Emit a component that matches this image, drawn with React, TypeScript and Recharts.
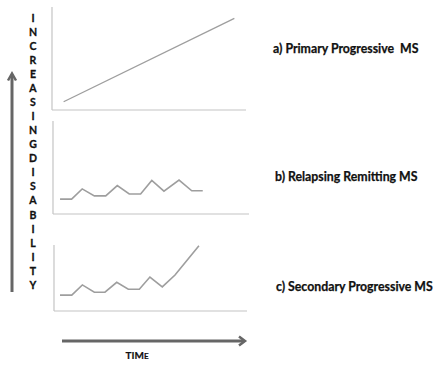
import { LineChart, Line, XAxis, YAxis } from 'recharts';

// time / disability values (0-100 scale)
const primaryTime = [6, 94];
const primaryDisability = [8, 89];

const relapsingTime = [3.6, 9.5, 14.9, 21.1, 26.9, 32.8, 38.9, 44.7, 50.4, 56.6, 64.3, 70.8, 76.4];
const relapsingDisability = [16, 16, 27, 19.5, 19.5, 30.5, 21.5, 21.5, 36, 24.5, 36.5, 25, 25];

const secondaryTime = [3.1, 9.2, 14.7, 20.9, 26.4, 32.5, 38.5, 44.2, 49.7, 56.1, 62.7, 75.1];
const secondaryDisability = [24, 24, 39.5, 28.5, 28.5, 43.5, 33, 33, 51.5, 36.5, 54.5, 99];

const panelLabels = ['a) Primary Progressive  MS', 'b) Relapsing Remitting MS', 'c) Secondary Progressive MS'];
const yLetters = 'INCREASINGDISABILITY'.split('');

const W = 442;
const H = 369;

const toRows = (t: number[], v: number[]) => t.map((x, i) => ({ t: x, v: v[i] }));

const panels = [
  { data: toRows(primaryTime, primaryDisability), box: { l: 52, t: 7, r: 246, b: 110 }, sw: 1.3 },
  { data: toRows(relapsingTime, relapsingDisability), box: { l: 53, t: 121, r: 249, b: 214 }, sw: 1.6 },
  { data: toRows(secondaryTime, secondaryDisability), box: { l: 54, t: 245, r: 247, b: 311 }, sw: 1.6 },
];

const labelPos = [
  { x: 273, y: 53 },
  { x: 275, y: 181 },
  { x: 276, y: 291 },
];

const FONT = 'Lato, "Open Sans", sans-serif';
const AXIS = { stroke: '#c4c4c4', strokeWidth: 1.2 };

export default function App() {
  return (
    <div style={{ position: 'absolute', left: 0, top: 0, width: W, height: H, background: '#fff' }}>
      {panels.map((p, i) => (
        <div key={i} style={{ position: 'absolute', left: 0, top: 0 }}>
          <LineChart
            width={W}
            height={H}
            data={p.data}
            margin={{ left: p.box.l - 1, top: p.box.t, right: W - p.box.r, bottom: H - p.box.b - 1 }}
          >
            <XAxis
              dataKey="t"
              type="number"
              domain={[0, 100]}
              height={1}
              tick={false}
              tickLine={false}
              axisLine={AXIS}
            />
            <YAxis
              type="number"
              domain={[0, 100]}
              width={1}
              tick={false}
              tickLine={false}
              axisLine={AXIS}
            />
            <Line
              dataKey="v"
              stroke="#9e9e9e"
              strokeWidth={p.sw}
              dot={false}
              isAnimationActive={false}
            />
          </LineChart>
        </div>
      ))}
      <svg width={W} height={H} style={{ position: 'absolute', left: 0, top: 0 }}>
        {/* vertical arrow */}
        <line x1={12} y1={292} x2={12} y2={75} stroke="#666" strokeWidth={3} />
        <polyline points="8,80.5 12,73.5 16,80.5" fill="none" stroke="#666" strokeWidth={2.5} />
        {/* horizontal arrow */}
        <line x1={62} y1={341} x2={243} y2={341} stroke="#666" strokeWidth={3} />
        <polyline points="239,336.5 245,341 239,345.5" fill="none" stroke="#666" strokeWidth={2.5} />

        {yLetters.map((ch, i) => (
          <text
            key={i}
            x={33}
            y={18 + i * 14.05 + 3.8}
            textAnchor="middle"
            fontFamily={FONT}
            fontWeight={700}
            fontSize={10.5}
            fill="#111"
            stroke="#111"
            strokeWidth={0.3}
          >
            {ch}
          </text>
        ))}

        <text x={137} y={358.5} textAnchor="middle" fontFamily={FONT} fontWeight={700} fontSize={10} fill="#111" stroke="#111" strokeWidth={0.2}>
          TIM<tspan fontSize={8}>E</tspan>
        </text>

        {panelLabels.map((s, i) => (
          <text
            key={i}
            x={labelPos[i].x}
            y={labelPos[i].y}
            fontFamily={FONT}
            fontWeight={700}
            fontSize={12.3}
            fill="#111"
            stroke="#111"
            strokeWidth={0.25}
            style={{ whiteSpace: 'pre' }}
          >
            {s}
          </text>
        ))}
      </svg>
    </div>
  );
}
